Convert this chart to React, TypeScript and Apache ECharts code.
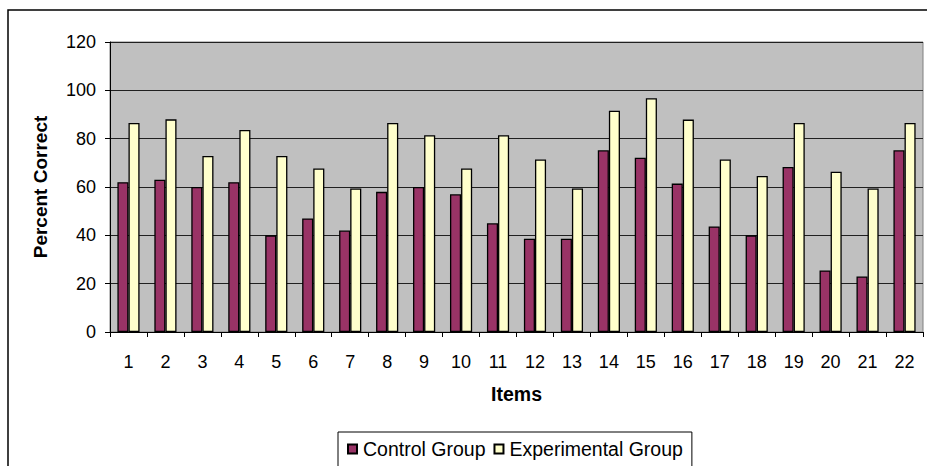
import React, { useEffect, useRef } from "react";
import * as echarts from "echarts";

// Items 1–22 on the category axis
const items: string[] = [
  "1", "2", "3", "4", "5", "6", "7", "8", "9", "10", "11",
  "12", "13", "14", "15", "16", "17", "18", "19", "20", "21", "22",
];

// Percent correct per item
const controlGroup: number[] = [
  62, 63, 60, 62, 40, 47, 42, 58, 60, 57, 45,
  38.6, 38.6, 75.2, 72.1, 61.4, 43.7, 40, 68.3, 25.5, 23, 75.2,
];
const experimentalGroup: number[] = [
  86.5, 88, 72.8, 83.6, 72.8, 67.7, 59.4, 86.5, 81.4, 67.7, 81.4,
  71.4, 59.4, 91.6, 96.7, 87.9, 71.4, 64.6, 86.5, 66.3, 59.4, 86.5,
];

const yTicks = { min: 0, max: 120, interval: 20 };

const FONT = "'Liberation Sans', Arial, sans-serif";

export default function App() {
  const ref = useRef<HTMLDivElement>(null);

  useEffect(() => {
    document.body.style.margin = "0";
    if (!ref.current) return;
    const chart = echarts.init(ref.current, null, { renderer: "svg" });

    chart.setOption({
      animation: false,
      backgroundColor: "#ffffff",
      textStyle: { fontFamily: FONT, color: "#000" },
      graphic: [
        {
          type: "rect",
          shape: { x: 8, y: 10, width: 960, height: 520 },
          style: { fill: "none", stroke: "#000", lineWidth: 1.5 },
          silent: true,
          z: -1,
        },
      ],
      grid: {
        left: 110,
        top: 42,
        right: 4,
        bottom: 134,
        show: true,
        backgroundColor: "#C0C0C0",
        borderColor: "#808080",
        borderWidth: 1,
      },
      legend: {
        left: 338,
        top: 432,
        orient: "horizontal",
        itemWidth: 9,
        itemHeight: 9,
        itemGap: 8,
        icon: "rect",
        borderColor: "#000",
        borderWidth: 1,
        padding: [7, 9, 12, 9],
        textStyle: { fontFamily: FONT, fontSize: 19.5, color: "#000", padding: [0, 0, 0, 1] },
        data: ["Control Group", "Experimental Group"],
      },
      xAxis: {
        type: "category",
        data: items,
        name: "Items",
        nameLocation: "middle",
        nameGap: 52,
        nameTextStyle: { fontFamily: FONT, fontSize: 19.5, fontWeight: "bold", color: "#000" },
        axisLine: { lineStyle: { color: "#000", width: 1 } },
        axisTick: { show: true, interval: 0, length: 5, lineStyle: { color: "#000" } },
        axisLabel: { interval: 0, margin: 21, fontSize: 18, color: "#000", fontFamily: FONT },
        splitLine: { show: false },
      },
      yAxis: {
        type: "value",
        min: yTicks.min,
        max: yTicks.max,
        interval: yTicks.interval,
        name: "Percent Correct",
        nameLocation: "middle",
        nameGap: 60,
        nameRotate: 90,
        nameTextStyle: { fontFamily: FONT, fontSize: 19, fontWeight: "bold", color: "#000" },
        axisLine: { show: true, lineStyle: { color: "#000", width: 1 } },
        axisTick: { show: true, length: 5, lineStyle: { color: "#000" } },
        axisLabel: { margin: 14, fontSize: 18, color: "#000", fontFamily: FONT },
        splitLine: { show: true, lineStyle: { color: "#202020", width: 1 } },
      },
      series: [
        {
          name: "Control Group",
          type: "bar",
          data: controlGroup,
          barGap: "0%",
          barCategoryGap: "40%",
          itemStyle: { color: "#993366", borderColor: "#000", borderWidth: 1.3 },
        },
        {
          name: "Experimental Group",
          type: "bar",
          data: experimentalGroup,
          barGap: "0%",
          barCategoryGap: "40%",
          itemStyle: { color: "#FFFFCC", borderColor: "#000", borderWidth: 1.3 },
        },
      ],
    });

    return () => chart.dispose();
  }, []);

  return <div ref={ref} style={{ width: 927, height: 466 }} />;
}
